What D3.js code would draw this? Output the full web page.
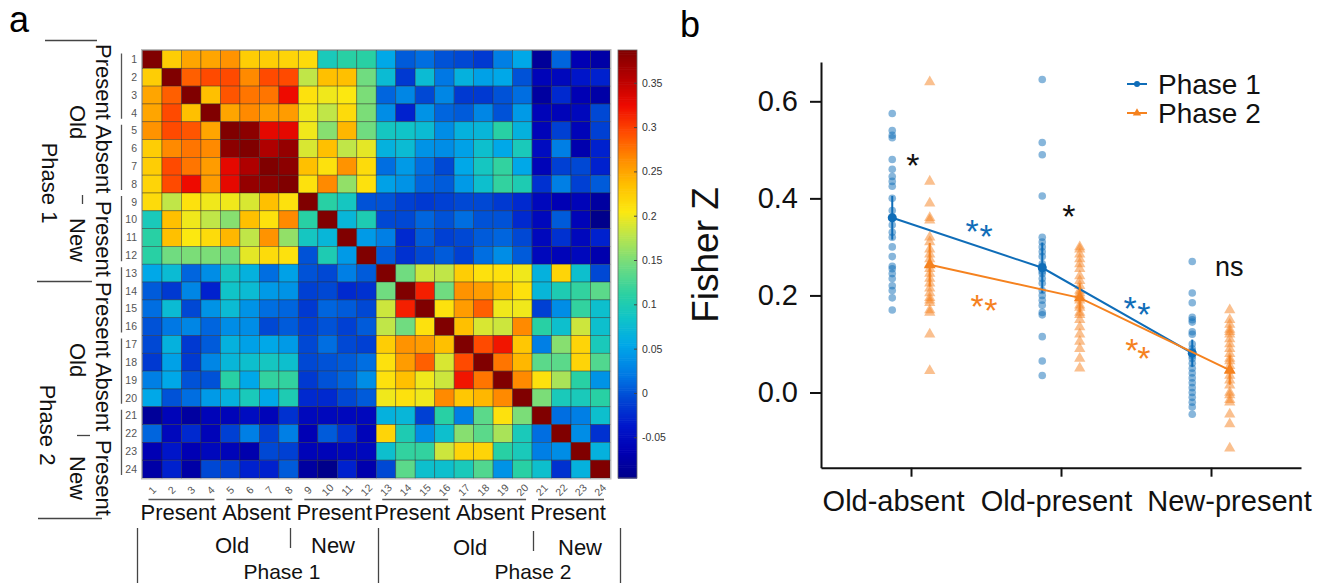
<!DOCTYPE html>
<html><head><meta charset="utf-8">
<script src="https://cdn.jsdelivr.net/npm/d3@7"></script>
<style>body{margin:0;background:#fff} svg{display:block;font-family:"Liberation Sans",Arial,Helvetica,sans-serif}</style>
</head><body><svg id="c" width="1343" height="583"></svg>
<script>
// ---------------- DATA ----------------
const cellIds = d3.range(1, 25);
// upper triangle of the (symmetric) similarity matrix: row i lists cols i+1..24
const upperTri = [
 [0.225,0.25,0.25,0.26,0.225,0.225,0.22,0.215,0.095,0.11,0.11, 0.055,0.005,0.015,0.0,-0.005,-0.015,0.025,0.055,-0.085,0.01,-0.065,-0.075],
 [0.285,0.295,0.295,0.265,0.295,0.295,0.18,0.235,0.235,0.145, 0.075,-0.015,0.075,0.02,0.065,0.05,0.055,0.0,-0.06,-0.055,-0.04,-0.03],
 [0.235,0.29,0.275,0.275,0.325,0.21,0.2,0.205,0.15, 0.01,0.03,-0.005,0.03,-0.015,-0.015,0.0,0.015,-0.08,-0.025,-0.065,-0.075],
 [0.25,0.265,0.255,0.255,0.2,0.18,0.215,0.15, 0.035,-0.03,0.04,0.01,0.005,0.03,0.0,0.045,-0.06,-0.06,-0.055,-0.005],
 [0.38,0.33,0.33,0.2,0.155,0.24,0.145, 0.09,0.085,0.075,0.035,0.065,0.07,0.11,0.065,-0.06,-0.01,-0.06,-0.01],
 [0.36,0.375,0.19,0.235,0.18,0.195, 0.065,0.075,0.04,0.035,0.05,0.08,0.055,0.095,-0.05,0.025,-0.07,-0.03],
 [0.38,0.235,0.21,0.26,0.215, 0.015,0.045,0.015,-0.005,0.055,0.09,0.115,0.055,-0.06,-0.01,-0.005,-0.03],
 [0.21,0.265,0.16,0.21, 0.05,0.04,0.01,0.005,0.045,0.08,0.115,0.1,-0.02,0.025,-0.01,0.005],
 [0.11,0.09,0.0, 0.0,-0.01,-0.015,-0.01,-0.005,-0.005,-0.015,-0.025,-0.055,-0.065,-0.06,-0.08],
 [0.07,0.1, -0.005,-0.005,0.01,0.0,0.015,0.0,0.0,-0.025,-0.055,0.005,-0.06,-0.095],
 [0.045, 0.025,-0.025,0.005,-0.01,-0.005,0.005,0.01,-0.005,-0.055,-0.02,-0.055,-0.03],
 [0.005,-0.02,-0.005,0.005,-0.01,0.015,0.035,0.005,-0.055,-0.06,-0.055,-0.07],
 [0.145,0.185,0.18,0.225,0.21,0.21,0.2,0.065,0.22,0.08,-0.005],
 [0.315,0.145,0.26,0.255,0.235,0.21,0.07,0.1,0.115,0.135],
 [0.21,0.255,0.285,0.2,0.2,-0.01,0.035,0.115,0.08],
 [0.235,0.19,0.185,0.265,0.11,0.08,0.185,0.08],
 [0.295,0.32,0.23,0.025,0.155,0.22,0.095],
 [0.275,0.24,0.135,0.135,0.22,0.13],
 [0.265,0.21,0.17,0.11,0.04],
 [0.15,0.095,0.095,0.11],
 [0.015,0.025,0.08],
 [0.035,-0.02],
 [0.065]
];
const diagValue = 0.40;
const colorTicks = [-0.05, 0, 0.05, 0.1, 0.15, 0.2, 0.25, 0.3, 0.35];
const groupWords = ["Present","Absent","Present","Present","Absent","Present"];
// colormap stops (jet-like, as printed in the figure)
const cmapValues = [-0.096,-0.065,-0.036,-0.005,0.02,0.055,0.085,0.11,0.145,0.18,0.205,0.235,0.265,0.295,0.325,0.357,0.387];
const cmapColors = ["#00008a","#0000b4","#0018cc","#0048d4","#0078e4","#00a8e8","#10c4c8","#28d0a4","#70dc80","#c0e648","#fce810","#ffc000","#ff8a00","#ff4a00","#ee0a00","#b40000","#800000"];

const conditions = ["Old-absent", "Old-present", "New-present"];
const phase1Points = [
 [0.575,0.54,0.53,0.525,0.48,0.46,0.445,0.435,0.425,0.40,0.375,0.345,0.33,0.32,0.30,0.28,0.26,0.255,0.245,0.235,0.22,0.21,0.195,0.17],
 [0.645,0.515,0.49,0.405,0.32,0.31,0.30,0.29,0.28,0.265,0.26,0.25,0.245,0.235,0.225,0.21,0.2,0.19,0.18,0.165,0.16,0.115,0.065,0.035],
 [0.27,0.205,0.185,0.155,0.15,0.145,0.125,0.12,0.10,0.09,0.085,0.075,0.07,0.06,0.05,0.04,0.03,0.02,0.01,0.0,-0.01,-0.02,-0.03,-0.045]
];
const phase2Points = [
 [0.64,0.435,0.39,0.36,0.355,0.32,0.31,0.295,0.285,0.275,0.265,0.255,0.245,0.235,0.225,0.215,0.205,0.195,0.19,0.185,0.17,0.165,0.12,0.045],
 [0.30,0.295,0.285,0.275,0.265,0.255,0.24,0.23,0.22,0.21,0.205,0.2,0.19,0.18,0.175,0.165,0.16,0.15,0.135,0.12,0.105,0.09,0.07,0.05],
 [0.17,0.15,0.14,0.13,0.125,0.12,0.11,0.1,0.09,0.08,0.07,0.065,0.055,0.045,0.035,0.025,0.015,0.0,-0.005,-0.015,-0.02,-0.045,-0.065,-0.115]
];
const phase1Mean = [0.36, 0.257, 0.081];
const phase1Err  = [0.045, 0.052, 0.028];
const phase2Mean = [0.263, 0.195, 0.046];
const phase2Err  = [0.045, 0.03, 0.03];
const yTicks = [0, 0.2, 0.4, 0.6];
const seriesNames = ["Phase 1", "Phase 2"];

// ---------------- HELPERS ----------------
const svg = d3.select("#c");
const FONT = '"Liberation Sans",Arial,Helvetica,sans-serif';

// ---------------- PANEL A ----------------
const matrix = [];
cellIds.forEach((r,i) => cellIds.forEach((c,j) => {
  let v;
  if (i === j) v = diagValue;
  else if (j > i) v = upperTri[i][j-i-1];
  else v = upperTri[j][i-j-1];
  matrix.push({r, c, v});
}));

const hx = d3.scaleBand().domain(cellIds).range([142.5, 610]);
const hy = d3.scaleBand().domain(cellIds).range([50.5, 478]);
const color = d3.scaleLinear().domain(cmapValues).range(cmapColors).interpolate(d3.interpolateRgb).clamp(true);

const gA = svg.append("g");
gA.append("rect").attr("x",141.5).attr("y",49.5).attr("width",469.5).attr("height",429.5)
  .attr("fill","none").attr("stroke","#bbb");
gA.selectAll("rect.cell").data(matrix).join("rect").attr("class","cell")
  .attr("x", d => hx(d.c)).attr("y", d => hy(d.r))
  .attr("width", hx.bandwidth()).attr("height", hy.bandwidth())
  .attr("fill", d => color(d.v)).attr("stroke","rgba(40,40,40,0.55)").attr("stroke-width",0.7);

// row numbers
gA.selectAll("text.rn").data(cellIds).join("text").attr("class","rn")
  .attr("x",137).attr("y", d => hy(d) + hy.bandwidth()/2 + 3.7)
  .attr("text-anchor","end").attr("font-size",10.5).attr("fill","#555").text(d => d);
// column numbers (rotated)
gA.selectAll("text.cn").data(cellIds).join("text").attr("class","cn")
  .attr("transform", d => `translate(${hx(d)+hx.bandwidth()/2},${490}) rotate(-45)`)
  .attr("text-anchor","middle").attr("dy","0.35em").attr("font-size",10.5).attr("fill","#555").text(d => d);

// group lines (4 cells each)
const groups = d3.range(6).map(g => ({g, first: cellIds[g*4], last: cellIds[g*4+3], word: groupWords[g]}));
gA.selectAll("line.rg").data(groups).join("line").attr("class","rg")
  .attr("x1",121.5).attr("x2",121.5)
  .attr("y1", d => hy(d.first)+3).attr("y2", d => hy(d.last)+hy.bandwidth()-3)
  .attr("stroke","#555").attr("stroke-width",1.3);
gA.selectAll("line.cg").data(groups).join("line").attr("class","cg")
  .attr("y1",499.5).attr("y2",499.5)
  .attr("x1", d => hx(d.first)+6).attr("x2", d => hx(d.last)+hx.bandwidth()-6)
  .attr("stroke","#555").attr("stroke-width",1.3);

// bottom group words
gA.selectAll("text.bw").data(groups).join("text").attr("class","bw")
  .attr("x", d => (hx(d.first) + hx(d.last) + hx.bandwidth())/2 - 3)
  .attr("y", 520).attr("text-anchor","middle").attr("font-size",22).attr("fill","#111")
  .text(d => d.word);
// left rotated group words
const leftWordCenters = [82, 159, 239, 320, 397, 478];
gA.selectAll("text.lw").data(groups).join("text").attr("class","lw")
  .attr("transform", (d,i) => `translate(96,${leftWordCenters[i]}) rotate(90)`)
  .attr("text-anchor","middle").attr("font-size",22).attr("fill","#111")
  .text(d => d.word);

// bottom hierarchy labels
const txt = (g,x,y,s,rot,size=22) => g.append("text")
  .attr("transform", `translate(${x},${y})` + (rot ? ` rotate(${rot})` : ""))
  .attr("text-anchor","middle").attr("font-size",size).attr("fill","#111").text(s);
txt(gA,232,553,"Old"); txt(gA,333,553,"New"); txt(gA,282,579,"Phase 1",0,21);
txt(gA,470,555,"Old"); txt(gA,580,555,"New"); txt(gA,533,579,"Phase 2",0,21);
const ln = (x1,y1,x2,y2) => gA.append("line").attr("x1",x1).attr("y1",y1).attr("x2",x2).attr("y2",y2)
  .attr("stroke","#444").attr("stroke-width",1.3);
ln(137.5,528,137.5,583); ln(378.5,528,378.5,583); ln(620.5,528,620.5,583);
ln(290.5,528,290.5,548); ln(533.5,531,533.5,551);
// left hierarchy labels
txt(gA,70,122,"Old",90); txt(gA,70,240,"New",90); txt(gA,42,183,"Phase 1",90);
txt(gA,70,360,"Old",90); txt(gA,70,478,"New",90); txt(gA,40,425,"Phase 2",90);
ln(45,40.5,97,40.5); ln(37,281.5,92,281.5); ln(38,518.5,102,518.5);
ln(82.5,195,82.5,204); ln(77,435.5,90,435.5);

// panel label
svg.append("text").attr("x",9).attr("y",32).attr("font-size",36).attr("fill","#000").text("a");

// colorbar
const cbY = d3.scaleLinear().domain([-0.096, 0.387]).range([478, 50]);
const cbSteps = d3.range(0, 200);
const cbG = svg.append("g");
cbG.selectAll("rect").data(cbSteps).join("rect")
  .attr("x",618).attr("width",19)
  .attr("y", d => cbY(-0.096 + (d+1)*0.483/200))
  .attr("height", 428/200 + 0.6)
  .attr("fill", d => color(-0.096 + (d+0.5)*0.483/200));
cbG.append("rect").attr("x",618).attr("y",50).attr("width",19).attr("height",428)
  .attr("fill","none").attr("stroke","#666").attr("stroke-width",0.8);
const cbAxis = cbG.append("g").attr("transform","translate(637,0)")
  .call(d3.axisRight(cbY).tickValues(colorTicks).tickSize(-3).tickPadding(5)
    .tickFormat(d => d === 0 ? "0" : String(+d.toFixed(2))));
cbAxis.select(".domain").remove();
cbAxis.selectAll("text").attr("font-size",10.5).attr("fill","#333").attr("font-family",FONT);
cbAxis.selectAll("line").attr("stroke","#444");

// ---------------- PANEL B ----------------
const blue = "#0f6db8", orange = "#f5821f";
const bx = d3.scaleLinear().domain([0.4, 3.6]).range([821, 1301]);
const by = d3.scaleLinear().domain([-0.155, 0.681]).range([467.7, 62]);
const gB = svg.append("g");
svg.append("text").attr("x",680).attr("y",37).attr("font-size",36).attr("fill","#000").text("b");

const yAx = gB.append("g").attr("transform","translate(821,0)")
  .call(d3.axisLeft(by).tickValues(yTicks).tickFormat(d3.format(".1f")).tickSize(11).tickSizeOuter(0).tickPadding(12));
const xAx = gB.append("g").attr("transform","translate(0,467.7)")
  .call(d3.axisBottom(bx).tickValues([1,2,3]).tickFormat(d => conditions[d-1]).tickSize(9).tickSizeOuter(0).tickPadding(14));
[yAx, xAx].forEach(a => {
  a.select(".domain").attr("stroke","#111").attr("stroke-width",2);
  a.selectAll("line").attr("stroke","#111").attr("stroke-width",2);
  a.selectAll("text").attr("font-size",29).attr("fill","#111").attr("font-family",FONT);
});
const labelShift = [-18, -5, 18];
xAx.selectAll(".tick text").attr("dx", (d,i) => labelShift[i]);
gB.append("text").attr("transform","translate(718,255) rotate(-90)").attr("text-anchor","middle")
  .attr("font-size",37).attr("fill","#111").text("Fisher Z");

const offs = [-0.125, 0.125];
// raw points
phase1Points.forEach((arr,k) => {
  gB.selectAll(null).data(arr).join("circle")
    .attr("cx", bx(k+1+offs[0])).attr("cy", d => by(d)).attr("r",3.8)
    .attr("fill",blue).attr("fill-opacity",0.5);
});
const tri = d3.symbol().type(d3.symbolTriangle).size(55);
phase2Points.forEach((arr,k) => {
  gB.selectAll(null).data(arr).join("path")
    .attr("d", tri).attr("transform", d => `translate(${bx(k+1+offs[1])},${by(d)})`)
    .attr("fill",orange).attr("fill-opacity",0.5);
});
// means, lines, error bars
const series = [
  {mean: phase1Mean, err: phase1Err, col: blue, off: offs[0], shape: "c"},
  {mean: phase2Mean, err: phase2Err, col: orange, off: offs[1], shape: "t"}
];
series.forEach(s => {
  const pts = s.mean.map((m,k) => [bx(k+1+s.off), by(m)]);
  gB.append("path").attr("d", d3.line()(pts)).attr("fill","none").attr("stroke",s.col).attr("stroke-width",2);
  s.mean.forEach((m,k) => {
    gB.append("line").attr("x1",bx(k+1+s.off)).attr("x2",bx(k+1+s.off))
      .attr("y1",by(m - s.err[k])).attr("y2",by(m + s.err[k])).attr("stroke",s.col).attr("stroke-width",2);
  });
  if (s.shape === "c") {
    gB.selectAll(null).data(pts).join("circle").attr("cx",d=>d[0]).attr("cy",d=>d[1]).attr("r",4.5).attr("fill",s.col);
  } else {
    gB.selectAll(null).data(pts).join("path").attr("d", d3.symbol().type(d3.symbolTriangle).size(60))
      .attr("transform", d => `translate(${d[0]},${d[1]})`).attr("fill",s.col);
  }
});

// significance annotations (positions in data coordinates)
const notes = [
  {cx:1.013, v:0.486, t:"*", c:"#111"},
  {cx:1.407, v:0.349, t:"*", c:blue}, {cx:1.50, v:0.339, t:"*", c:blue},
  {cx:1.44, v:0.195, t:"*", c:orange}, {cx:1.533, v:0.187, t:"*", c:orange},
  {cx:2.053, v:0.38, t:"*", c:"#111"},
  {cx:2.46, v:0.191, t:"*", c:blue}, {cx:2.553, v:0.178, t:"*", c:blue},
  {cx:2.473, v:0.104, t:"*", c:orange}, {cx:2.553, v:0.088, t:"*", c:orange}
];
gB.selectAll("text.note").data(notes).join("text").attr("class","note")
  .attr("x", d => bx(d.cx)).attr("y", d => by(d.v) + 20)
  .attr("text-anchor","middle").attr("font-size",34).attr("fill", d => d.c).text(d => d.t);
gB.append("text").attr("x", bx(3.027)).attr("y", by(0.257) + 8).attr("font-size",27).attr("fill","#111").text("ns");

// legend
const lg = gB.append("g");
[{y:84, c:blue, s:"c"}, {y:113, c:orange, s:"t"}].forEach((d,i) => {
  lg.append("line").attr("x1",1127).attr("x2",1147).attr("y1",d.y).attr("y2",d.y).attr("stroke",d.c).attr("stroke-width",2);
  if (d.s === "c") lg.append("circle").attr("cx",1137).attr("cy",d.y).attr("r",3).attr("fill",d.c);
  else lg.append("path").attr("d", d3.symbol().type(d3.symbolTriangle).size(30)).attr("transform",`translate(1137,${d.y})`).attr("fill",d.c);
  lg.append("text").attr("x",1158).attr("y",d.y+10).attr("font-size",28).attr("fill","#111").text(seriesNames[i]);
});
</script></body></html>
